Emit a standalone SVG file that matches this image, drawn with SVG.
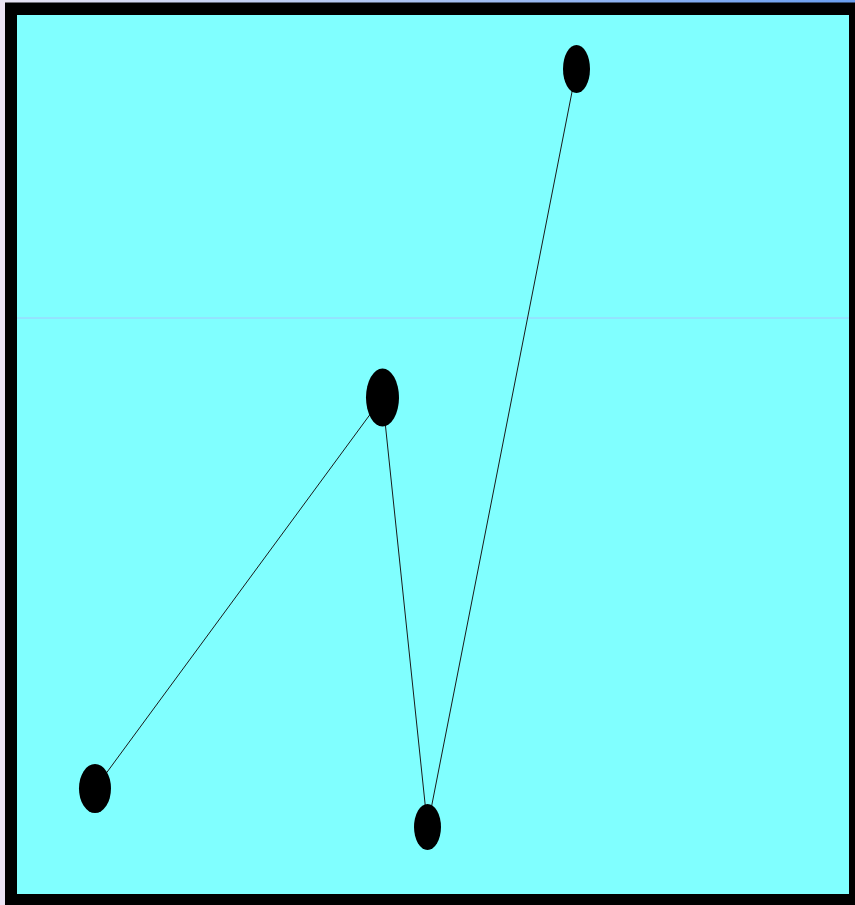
<svg xmlns="http://www.w3.org/2000/svg" width="855" height="905" viewBox="0 0 855 905">
<defs>
<linearGradient id="topg" x1="0" y1="0" x2="1" y2="0">
<stop offset="0" stop-color="#e8e4f4"/>
<stop offset="1" stop-color="#6a9ef0"/>
</linearGradient>
<style>
.edge{stroke:#1a1a1a;stroke-width:1;fill:none}
.node{fill:#000}
</style>
</defs>
<rect x="0" y="0" width="855" height="905" fill="#000"/>
<rect x="0" y="0" width="5" height="905" fill="#ece4f4"/>
<rect x="0" y="0" width="855" height="2.5" fill="url(#topg)"/>
<rect x="17" y="15" width="832" height="879" fill="#80ffff"/>
<line x1="17" y1="318" x2="849" y2="318" stroke="#a6c8ff" stroke-width="1"/>
<g id="connectors">
<line class="edge" x1="576.5" y1="69" x2="427.5" y2="827"/>
<line class="edge" x1="382.5" y1="397.5" x2="95" y2="788.5"/>
<line class="edge" x1="382.5" y1="397.5" x2="427.5" y2="827"/>
</g>
<g id="node1"><ellipse class="node" cx="576.5" cy="69" rx="13.5" ry="24"/></g>
<g id="node2"><ellipse class="node" cx="382.5" cy="397.5" rx="16.5" ry="29"/></g>
<g id="node3"><ellipse class="node" cx="95" cy="788.5" rx="16" ry="24.5"/></g>
<g id="node4"><ellipse class="node" cx="427.5" cy="827" rx="13.5" ry="23"/></g>
</svg>
